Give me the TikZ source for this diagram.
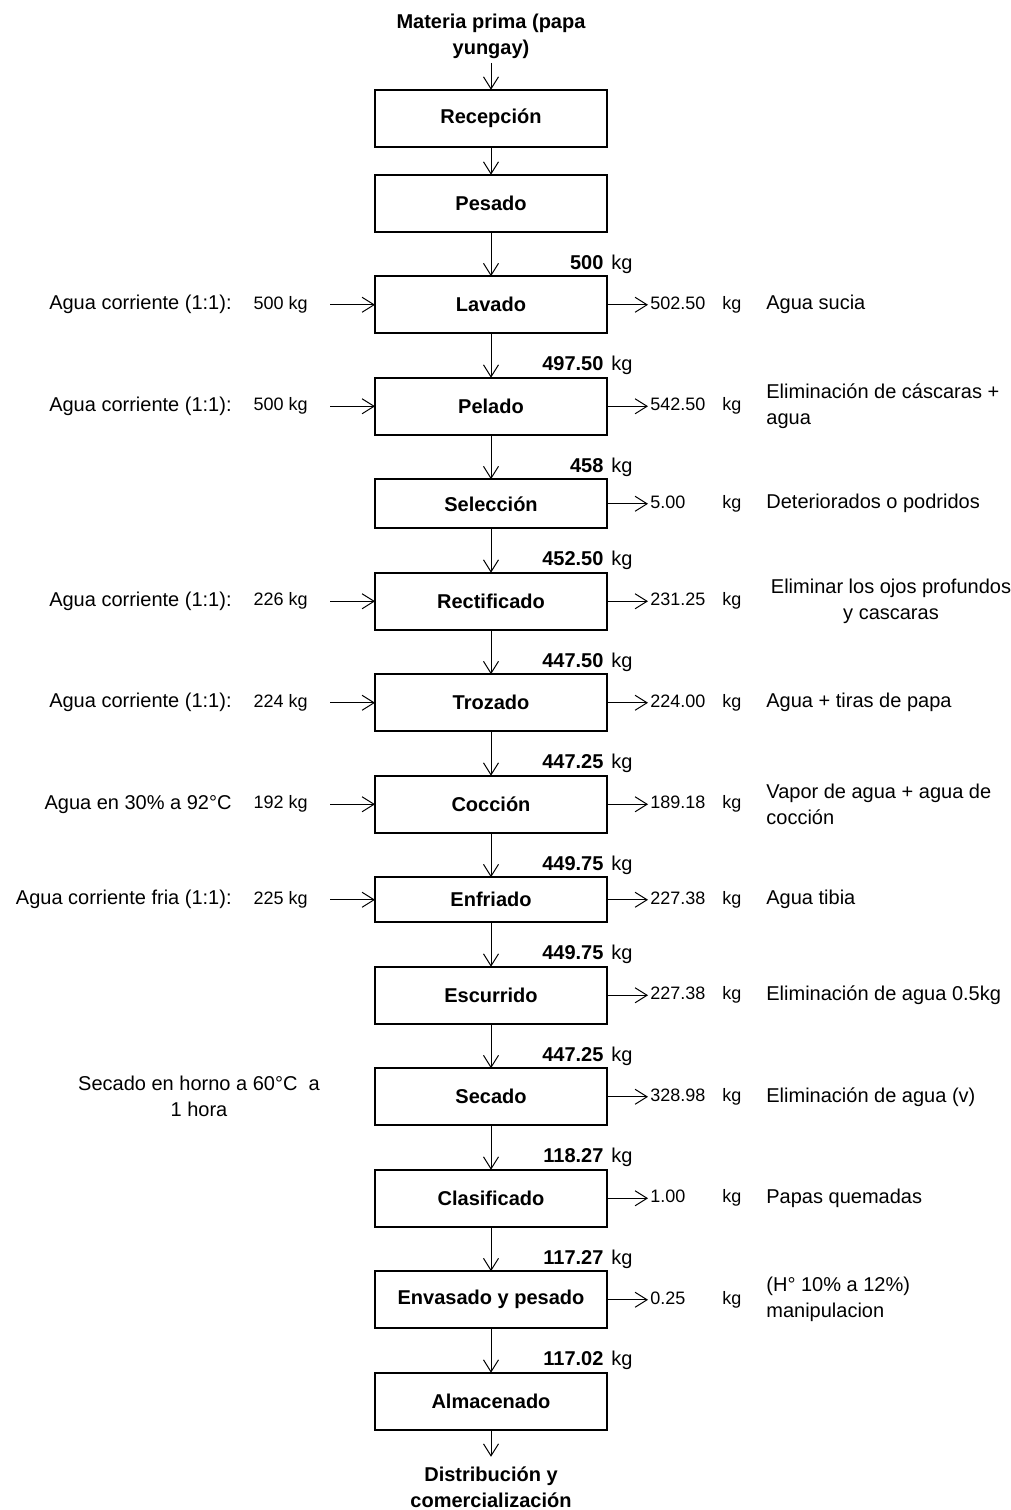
\documentclass[tikz,border=0pt]{standalone}
\usepackage{fontspec}
\setmainfont{Liberation Sans}
\usetikzlibrary{arrows.meta, positioning}

\begin{document}
\begin{tikzpicture}[
    node distance=22.25pt,
    font=\fontsize{10pt}{13pt}\selectfont,
    box/.style={rectangle, draw, line width=1pt, outer sep=0pt, inner sep=0pt,
        minimum width=116pt, minimum height=28.5pt, font=\fontsize{10pt}{13pt}\selectfont\bfseries},
    ends/.style={align=center, inner sep=2pt, font=\fontsize{10pt}{13pt}\selectfont\bfseries},
    arrow/.style={-{Straight Barb[length=6pt, width=7.5pt]}, line width=0.5pt},
    mass/.style={anchor=base east, inner sep=0pt},
    source/.style={anchor=east, inner sep=0pt},
    feed/.style={anchor=east, inner sep=0pt, font=\fontsize{9pt}{11pt}\selectfont},
    waste/.style={anchor=west, inner sep=0pt, font=\fontsize{9pt}{11pt}\selectfont},
    note/.style={anchor=west, inner sep=0pt, align=left}
]
\useasboundingbox (0,0) rectangle (505.5pt,-755pt);

% main line of operations
\node[ends] (materia) at (245.5pt,-18pt) {Materia prima (papa\\yungay)};
\node[box, below=13.5pt of materia] (recepcion) {Recepción};
\node[box, below=14pt of recepcion] (pesado) {Pesado};
\node[box, below=of pesado] (lavado) {Lavado};
\node[box, below=of lavado] (pelado) {Pelado};
\node[box, below=of pelado, minimum height=24.5pt] (seleccion) {Selección};
\node[box, below=of seleccion] (rectificado) {Rectificado};
\node[box, below=of rectificado] (trozado) {Trozado};
\node[box, below=of trozado] (coccion) {Cocción};
\node[box, below=of coccion, minimum height=22.5pt] (enfriado) {Enfriado};
\node[box, below=of enfriado] (escurrido) {Escurrido};
\node[box, below=of escurrido] (secado) {Secado};
\node[box, below=of secado] (clasificado) {Clasificado};
\node[box, below=of clasificado] (envasado) {Envasado y pesado};
\node[box, below=of envasado] (almacenado) {Almacenado};
\node[ends, inner ysep=5pt, below=13.5pt of almacenado] (distribucion) {Distribución y\\comercialización};

\draw[arrow] (materia) -- (recepcion);
\draw[arrow] (recepcion) -- (pesado);
\draw[arrow] (pesado) -- (lavado);
\draw[arrow] (lavado) -- (pelado);
\draw[arrow] (pelado) -- (seleccion);
\draw[arrow] (seleccion) -- (rectificado);
\draw[arrow] (rectificado) -- (trozado);
\draw[arrow] (trozado) -- (coccion);
\draw[arrow] (coccion) -- (enfriado);
\draw[arrow] (enfriado) -- (escurrido);
\draw[arrow] (escurrido) -- (secado);
\draw[arrow] (secado) -- (clasificado);
\draw[arrow] (clasificado) -- (envasado);
\draw[arrow] (envasado) -- (almacenado);
\draw[arrow] (almacenado) -- (distribucion);

% mass entering each step
\node[mass] (lavado-kg) at ([xshift=13pt, yshift=3.5pt]lavado.north east) {\textbf{500}\hspace{4pt}kg};
\node[mass] (pelado-kg) at ([xshift=13pt, yshift=3.5pt]pelado.north east) {\textbf{497.50}\hspace{4pt}kg};
\node[mass] (seleccion-kg) at ([xshift=13pt, yshift=3.5pt]seleccion.north east) {\textbf{458}\hspace{4pt}kg};
\node[mass] (rectificado-kg) at ([xshift=13pt, yshift=3.5pt]rectificado.north east) {\textbf{452.50}\hspace{4pt}kg};
\node[mass] (trozado-kg) at ([xshift=13pt, yshift=3.5pt]trozado.north east) {\textbf{447.50}\hspace{4pt}kg};
\node[mass] (coccion-kg) at ([xshift=13pt, yshift=3.5pt]coccion.north east) {\textbf{447.25}\hspace{4pt}kg};
\node[mass] (enfriado-kg) at ([xshift=13pt, yshift=3.5pt]enfriado.north east) {\textbf{449.75}\hspace{4pt}kg};
\node[mass] (escurrido-kg) at ([xshift=13pt, yshift=3.5pt]escurrido.north east) {\textbf{449.75}\hspace{4pt}kg};
\node[mass] (secado-kg) at ([xshift=13pt, yshift=3.5pt]secado.north east) {\textbf{447.25}\hspace{4pt}kg};
\node[mass] (clasificado-kg) at ([xshift=13pt, yshift=3.5pt]clasificado.north east) {\textbf{118.27}\hspace{4pt}kg};
\node[mass] (envasado-kg) at ([xshift=13pt, yshift=3.5pt]envasado.north east) {\textbf{117.27}\hspace{4pt}kg};
\node[mass] (almacenado-kg) at ([xshift=13pt, yshift=3.5pt]almacenado.north east) {\textbf{117.02}\hspace{4pt}kg};

% water fed from the left
\node[source] (lavado-src) at ([xshift=-71.5pt]lavado.west) {Agua corriente (1:1):};
\node[feed] (lavado-in) at ([xshift=-33.5pt]lavado.west) {500 kg};
\node[source] (pelado-src) at ([xshift=-71.5pt]pelado.west) {Agua corriente (1:1):};
\node[feed] (pelado-in) at ([xshift=-33.5pt]pelado.west) {500 kg};
\node[source] (rectificado-src) at ([xshift=-71.5pt]rectificado.west) {Agua corriente (1:1):};
\node[feed] (rectificado-in) at ([xshift=-33.5pt]rectificado.west) {226 kg};
\node[source] (trozado-src) at ([xshift=-71.5pt]trozado.west) {Agua corriente (1:1):};
\node[feed] (trozado-in) at ([xshift=-33.5pt]trozado.west) {224 kg};
\node[source] (coccion-src) at ([xshift=-71.5pt]coccion.west) {Agua en 30\% a 92°C};
\node[feed] (coccion-in) at ([xshift=-33.5pt]coccion.west) {192 kg};
\node[source] (enfriado-src) at ([xshift=-71.5pt]enfriado.west) {Agua corriente fria (1:1):};
\node[feed] (enfriado-in) at ([xshift=-33.5pt]enfriado.west) {225 kg};
\node[align=center, inner sep=0pt] (secado-src) at ([xshift=-88pt]secado.west) {Secado en horno a 60°C\ \ a\\1 hora};

\draw[arrow, shorten <=11pt] (lavado-in) -- (lavado);
\draw[arrow, shorten <=11pt] (pelado-in) -- (pelado);
\draw[arrow, shorten <=11pt] (rectificado-in) -- (rectificado);
\draw[arrow, shorten <=11pt] (trozado-in) -- (trozado);
\draw[arrow, shorten <=11pt] (coccion-in) -- (coccion);
\draw[arrow, shorten <=11pt] (enfriado-in) -- (enfriado);

% losses to the right
\node[waste] (lavado-out) at ([xshift=21.5pt]lavado.east) {\makebox[36pt][l]{502.50}kg};
\node[note] (lavado-note) at ([xshift=79.5pt]lavado.east) {Agua sucia};
\node[waste] (pelado-out) at ([xshift=21.5pt]pelado.east) {\makebox[36pt][l]{542.50}kg};
\node[note] (pelado-note) at ([xshift=79.5pt]pelado.east) {Eliminación de cáscaras +\\agua};
\node[waste] (seleccion-out) at ([xshift=21.5pt]seleccion.east) {\makebox[36pt][l]{5.00}kg};
\node[note] (seleccion-note) at ([xshift=79.5pt]seleccion.east) {Deteriorados o podridos};
\node[waste] (rectificado-out) at ([xshift=21.5pt]rectificado.east) {\makebox[36pt][l]{231.25}kg};
\node[align=center, inner sep=0pt] (rectificado-note) at ([xshift=142pt]rectificado.east) {Eliminar los ojos profundos\\y cascaras};
\node[waste] (trozado-out) at ([xshift=21.5pt]trozado.east) {\makebox[36pt][l]{224.00}kg};
\node[note] (trozado-note) at ([xshift=79.5pt]trozado.east) {Agua + tiras de papa};
\node[waste] (coccion-out) at ([xshift=21.5pt]coccion.east) {\makebox[36pt][l]{189.18}kg};
\node[note] (coccion-note) at ([xshift=79.5pt]coccion.east) {Vapor de agua + agua de\\cocción};
\node[waste] (enfriado-out) at ([xshift=21.5pt]enfriado.east) {\makebox[36pt][l]{227.38}kg};
\node[note] (enfriado-note) at ([xshift=79.5pt]enfriado.east) {Agua tibia};
\node[waste] (escurrido-out) at ([xshift=21.5pt]escurrido.east) {\makebox[36pt][l]{227.38}kg};
\node[note] (escurrido-note) at ([xshift=79.5pt]escurrido.east) {Eliminación de agua 0.5kg};
\node[waste] (secado-out) at ([xshift=21.5pt]secado.east) {\makebox[36pt][l]{328.98}kg};
\node[note] (secado-note) at ([xshift=79.5pt]secado.east) {Eliminación de agua (v)};
\node[waste] (clasificado-out) at ([xshift=21.5pt]clasificado.east) {\makebox[36pt][l]{1.00}kg};
\node[note] (clasificado-note) at ([xshift=79.5pt]clasificado.east) {Papas quemadas};
\node[waste] (envasado-out) at ([xshift=21.5pt]envasado.east) {\makebox[36pt][l]{0.25}kg};
\node[note] (envasado-note) at ([xshift=79.5pt]envasado.east) {(H° 10\% a 12\%)\\manipulacion};

\draw[arrow, shorten >=1pt] (lavado) -- (lavado-out);
\draw[arrow, shorten >=1pt] (pelado) -- (pelado-out);
\draw[arrow, shorten >=1pt] (seleccion) -- (seleccion-out);
\draw[arrow, shorten >=1pt] (rectificado) -- (rectificado-out);
\draw[arrow, shorten >=1pt] (trozado) -- (trozado-out);
\draw[arrow, shorten >=1pt] (coccion) -- (coccion-out);
\draw[arrow, shorten >=1pt] (enfriado) -- (enfriado-out);
\draw[arrow, shorten >=1pt] (escurrido) -- (escurrido-out);
\draw[arrow, shorten >=1pt] (secado) -- (secado-out);
\draw[arrow, shorten >=1pt] (clasificado) -- (clasificado-out);
\draw[arrow, shorten >=1pt] (envasado) -- (envasado-out);
\end{tikzpicture}
\end{document}
